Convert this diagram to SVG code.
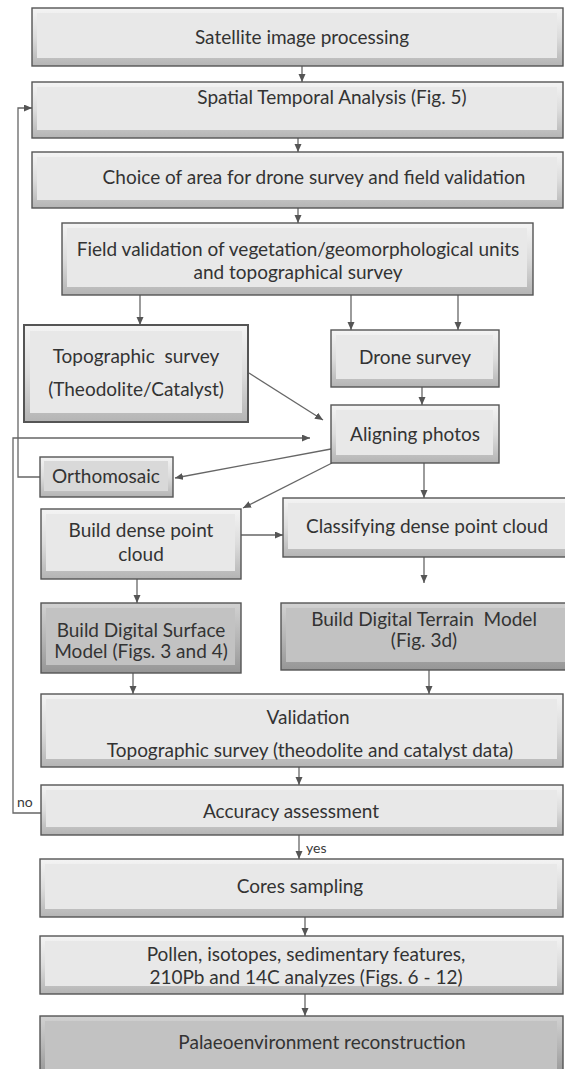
<svg xmlns="http://www.w3.org/2000/svg" width="565" height="1069" viewBox="0 0 565 1069">
<defs>
<linearGradient id="gl" x1="0" y1="0" x2="0" y2="1">
<stop offset="0" stop-color="#f4f4f4"/>
<stop offset="0.5" stop-color="#dcdcdc"/>
<stop offset="1" stop-color="#b4b4b4"/>
</linearGradient>
<linearGradient id="gd" x1="0" y1="0" x2="0" y2="1">
<stop offset="0" stop-color="#d2d2d2"/>
<stop offset="0.5" stop-color="#b6b6b6"/>
<stop offset="1" stop-color="#969696"/>
</linearGradient>
<marker id="ah" markerUnits="userSpaceOnUse" markerWidth="9" markerHeight="8" refX="8" refY="3.5" orient="auto">
<path d="M0,0 L8,3.5 L0,7 z" fill="#555"/>
</marker>
</defs>
<style>
.o{fill:url(#gl);stroke:#555;stroke-width:1.4}
.i{fill:#e8e8e8}
.od{fill:url(#gd);stroke:#555;stroke-width:1.4}
.id{fill:#c2c2c2}
.im{fill:#d9d9d9}
.t{font-family:Lato,"Liberation Sans",sans-serif;font-size:19px;fill:#333;text-anchor:middle;white-space:pre}
.s{font-family:Lato,"Liberation Sans",sans-serif;font-size:14px;fill:#3a3a3a}
.c{fill:none;stroke:#666;stroke-width:1.3}
.a{marker-end:url(#ah)}
</style>
<rect width="565" height="1069" fill="#ffffff"/>

<g id="connectors">
<line class="c a" x1="302" y1="66" x2="302" y2="82"/>
<line class="c a" x1="298" y1="138" x2="298" y2="152"/>
<line class="c a" x1="298" y1="208" x2="298" y2="223"/>
<line class="c a" x1="140" y1="295" x2="140" y2="325"/>
<line class="c a" x1="351" y1="295" x2="351" y2="330"/>
<line class="c a" x1="458" y1="295" x2="458" y2="330"/>
<line class="c a" x1="422" y1="387" x2="422" y2="405"/>
<line class="c a" x1="249" y1="373" x2="323" y2="420"/>
<line class="c a" x1="331" y1="449" x2="175" y2="478"/>
<line class="c a" x1="332" y1="463" x2="243" y2="508"/>
<line class="c a" x1="424" y1="463" x2="424" y2="498"/>
<line class="c a" x1="241" y1="535" x2="283" y2="535"/>
<line class="c a" x1="137" y1="579" x2="137" y2="603"/>
<line class="c a" x1="424" y1="557" x2="424" y2="583"/>
<line class="c a" x1="133" y1="673" x2="133" y2="694"/>
<line class="c a" x1="429" y1="670" x2="429" y2="694"/>
<line class="c a" x1="299" y1="767" x2="299" y2="785"/>
<line class="c a" x1="299" y1="835" x2="299" y2="859"/>
<line class="c a" x1="305" y1="917" x2="305" y2="936"/>
<line class="c a" x1="305" y1="994" x2="305" y2="1016"/>
<polyline class="c a" points="40,477 18,477 18,108 32,108"/>
<polyline class="c a" points="41,813 13,813 13,438 310,438"/>
<text class="s" x="17" y="807">no</text>
<text class="s" x="306" y="853">yes</text>
</g>

<g id="n1">
<rect class="o" x="32" y="8" width="531" height="58"/>
<rect class="i" x="37" y="13" width="520" height="45"/>
<text class="t" x="302" y="44">Satellite image processing</text>
</g>
<g id="n2">
<rect class="o" x="32" y="82" width="531" height="56"/>
<rect class="i" x="37" y="87" width="520" height="43"/>
<text class="t" x="332" y="104">Spatial Temporal Analysis (Fig. 5)</text>
</g>
<g id="n3">
<rect class="o" x="32" y="152" width="531" height="56"/>
<rect class="i" x="37" y="157" width="520" height="43"/>
<text class="t" x="314" y="184">Choice of area for drone survey and field validation</text>
</g>
<g id="n4">
<rect class="o" x="62" y="223" width="471" height="72"/>
<rect class="i" x="67" y="228" width="460" height="59"/>
<text class="t" x="298" y="256">Field validation of vegetation/geomorphological units</text>
<text class="t" x="298" y="279">and topographical survey</text>
</g>
<g id="n5">
<rect class="o" x="24" y="325" width="224" height="97" style="stroke-width:2"/>
<rect class="i" x="30" y="331" width="212" height="82"/>
<text class="t" x="136" y="363">Topographic  survey</text>
<text class="t" x="136" y="396">(Theodolite/Catalyst)</text>
</g>
<g id="n6">
<rect class="o" x="331" y="330" width="168" height="57"/>
<rect class="i" x="336" y="335" width="157" height="44"/>
<text class="t" x="415" y="364">Drone survey</text>
</g>
<g id="n7">
<rect class="o" x="331" y="405" width="168" height="58"/>
<rect class="i" x="336" y="410" width="157" height="45"/>
<text class="t" x="415" y="441">Aligning photos</text>
</g>
<g id="n8">
<rect class="o" x="40" y="457" width="133" height="40"/>
<rect class="im" x="44" y="461" width="124" height="30"/>
<text class="t" x="106" y="483">Orthomosaic</text>
</g>
<g id="n9">
<rect class="o" x="41" y="509" width="200" height="70"/>
<rect class="i" x="46" y="514" width="189" height="57"/>
<text class="t" x="141" y="537">Build dense point</text>
<text class="t" x="141" y="561">cloud</text>
</g>
<g id="n10">
<rect class="o" x="283" y="498" width="290" height="59"/>
<rect class="i" x="288" y="503" width="279" height="46"/>
<text class="t" x="427" y="533">Classifying dense point cloud</text>
</g>
<g id="n11">
<rect class="od" x="41" y="603" width="200" height="70"/>
<rect class="id" x="46" y="608" width="189" height="57"/>
<text class="t" x="141" y="637">Build Digital Surface</text>
<text class="t" x="141" y="658">Model (Figs. 3 and 4)</text>
</g>
<g id="n12">
<rect class="od" x="281" y="603" width="290" height="67"/>
<rect class="id" x="286" y="608" width="279" height="54"/>
<text class="t" x="424" y="626">Build Digital Terrain  Model</text>
<text class="t" x="424" y="647">(Fig. 3d)</text>
</g>
<g id="n13">
<rect class="o" x="41" y="694" width="522" height="73"/>
<rect class="i" x="46" y="699" width="511" height="60"/>
<text class="t" x="308" y="724">Validation</text>
<text class="t" x="310" y="757">Topographic survey (theodolite and catalyst data)</text>
</g>
<g id="n14">
<rect class="o" x="41" y="785" width="522" height="50"/>
<rect class="i" x="46" y="790" width="511" height="37"/>
<text class="t" x="291" y="818">Accuracy assessment</text>
</g>
<g id="n15">
<rect class="o" x="40" y="859" width="523" height="58"/>
<rect class="i" x="45" y="864" width="512" height="45"/>
<text class="t" x="300" y="893">Cores sampling</text>
</g>
<g id="n16">
<rect class="o" x="40" y="936" width="523" height="58"/>
<rect class="i" x="45" y="941" width="512" height="45"/>
<text class="t" x="306" y="961">Pollen, isotopes, sedimentary features,</text>
<text class="t" x="306" y="984">210Pb and 14C analyzes (Figs. 6 - 12)</text>
</g>
<g id="n17">
<rect class="od" x="40" y="1016" width="523" height="60"/>
<rect class="id" x="45" y="1021" width="512" height="52"/>
<text class="t" x="322" y="1049">Palaeoenvironment reconstruction</text>
</g>
</svg>
